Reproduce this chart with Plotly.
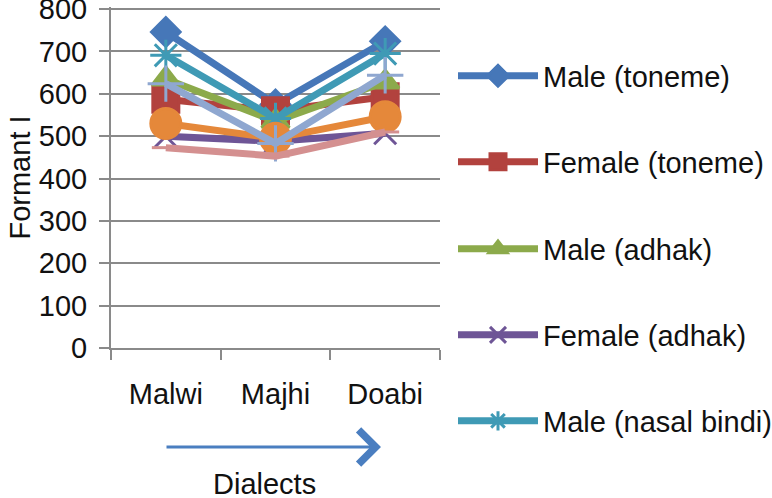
import plotly.graph_objects as go

dialects = ["Malwi", "Majhi", "Doabi"]

male_toneme = [746, 575, 724]
female_toneme = [587, 560, 593]
male_adhak = [635, 535, 628]
female_adhak = [500, 488, 507]
male_nasal_bindi = [691, 542, 695]
female_nasal_bindi = [530, 495, 546]
male_tippi = [624, 483, 644]
female_tippi = [473, 453, 510]

series = [
    ("Male (toneme)", male_toneme, "#4677B8", "diamond", 22, True),
    ("Female (toneme)", female_toneme, "#B2423E", "square", 26, True),
    ("Male (adhak)", male_adhak, "#8CAA4B", "triangle-up", 24, True),
    ("Female (adhak)", female_adhak, "#6E5596", "x-thin-open", 22, True),
    ("Male (nasal bindi)", male_nasal_bindi, "#3F9AB5", "asterisk-open", 26, True),
    ("Female (nasal bindi)", female_nasal_bindi, "#E5883A", "circle", 30, False),
    ("Male (tippi)", male_tippi, "#8FA7D0", "cross-thin-open", 26, False),
    ("Female (tippi)", female_tippi, "#D49090", "line-ew-open", 20, False),
]

font = "Liberation Sans, Arial, sans-serif"
fs = 29

fig = go.Figure()
legend_centers = [76, 162, 249, 335, 421]
legend_layouts = {}
for i, (name, vals, color, sym, size, show) in enumerate(series):
    lg = "legend" if i == 0 else "legend%d" % (i + 1)
    fig.add_trace(go.Scatter(
        x=dialects, y=vals, name=name, mode="lines+markers",
        line=dict(color=color, width=7),
        marker=dict(symbol=sym, size=size, color=color,
                    line=dict(color=color, width=3)),
        showlegend=show, legend=lg if show else None,
    ))
    if show:
        legend_layouts[lg] = dict(
            xref="container", yref="container",
            x=453 / 772, y=1 - legend_centers[i] / 498,
            xanchor="left", yanchor="middle",
            font=dict(size=fs, family=font, color="#111111"),
            itemsizing="trace", itemwidth=80,
            bgcolor="rgba(0,0,0,0)", borderwidth=0,
        )

fig.update_layout(
    width=772, height=498,
    margin=dict(l=111, r=332, t=7, b=150),
    paper_bgcolor="white", plot_bgcolor="white",
    font=dict(family=font, size=fs, color="#111111"),
    showlegend=True,
    xaxis=dict(
        type="category", range=[-0.5, 2.5], automargin=False,
        showgrid=False, showline=True, linecolor="#8a8a8a", linewidth=2,
        ticks="outside", tickson="boundaries", ticklen=10,
        tickcolor="#8a8a8a", tickwidth=2,
        ticklabelstandoff=19,
    ),
    yaxis=dict(
        range=[0, 805], tickvals=[0, 100, 200, 300, 400, 500, 600, 700, 800],
        automargin=False, ticklabeloverflow="allow",
        showgrid=True, gridcolor="#8a8a8a", gridwidth=2,
        showline=True, linecolor="#8a8a8a", linewidth=2,
        ticks="outside", ticklen=10, tickcolor="#8a8a8a", tickwidth=2,
        ticklabelstandoff=6,
        zeroline=False,
        title=dict(text="Formant I", standoff=0, font=dict(size=fs)),
    ),
    annotations=[
        dict(
            x=(381 - 111) / 329, y=(348 - 447) / 341, xref="paper", yref="paper",
            ax=-216, ay=0, axref="pixel", ayref="pixel",
            showarrow=True, arrowhead=4, arrowsize=2.2, arrowwidth=3,
            arrowcolor="#4A7EC0", text="",
        ),
        dict(
            x=(264 - 111) / 329, y=(348 - 484) / 341, xref="paper", yref="paper",
            text="Dialects", showarrow=False, xanchor="center", yanchor="middle",
            font=dict(size=fs, family=font, color="#111111"),
        ),
    ],
    **legend_layouts,
)

fig.write_html("out.html", config={"displayModeBar": False},
               post_script="document.body.style.margin='0';")
